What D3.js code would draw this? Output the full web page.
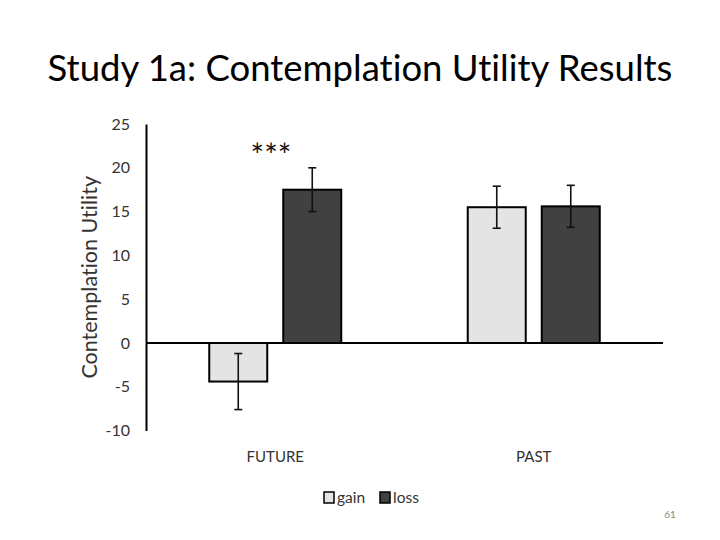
<!DOCTYPE html>
<html><head><meta charset="utf-8">
<script src="https://cdn.jsdelivr.net/npm/d3@7"></script>
<style>body{margin:0;background:#fff}svg{display:block}text{font-variant-ligatures:none}</style>
</head><body>
<svg id="c" width="720" height="540"></svg>
<script>
const categories = ["FUTURE", "PAST"];
const series = ["gain", "loss"];
const gainValues = [-4.4, 15.5];
const lossValues = [17.5, 15.6];
const gainErrors = [3.2, 2.4];
const lossErrors = [2.5, 2.4];
const yTicks = [-10, -5, 0, 5, 10, 15, 20, 25];
const colors = {gain: "#e4e4e4", loss: "#414141"};

const svg = d3.select("#c");
const font = "Lato, 'Open Sans', sans-serif";

svg.append("text").attr("x", 360).attr("y", 81).attr("text-anchor", "middle")
  .attr("font-family", font).attr("font-size", 36.5).attr("fill", "#000")
  .text("Study 1a: Contemplation Utility Results");

const x0 = d3.scaleBand().domain(categories).range([146, 663]);
const y = d3.scaleLinear().domain([-10, 25]).range([430.6, 124]);

// y axis
const yAxis = d3.axisLeft(y).tickValues(yTicks).tickSize(0).tickPadding(16)
  .tickFormat(d => String(d));
const gy = svg.append("g").attr("transform", "translate(146,0)").call(yAxis);
gy.select(".domain").attr("stroke", "#000").attr("stroke-width", 2);
gy.selectAll("text").attr("font-family", font).attr("font-size", 16).attr("fill", "#333");

svg.append("text").attr("transform", `translate(97,${(y(25)+y(-10))/2}) rotate(-90)`)
  .attr("text-anchor", "middle").attr("font-family", font).attr("font-size", 21.5).attr("fill", "#333")
  .text("Contemplation Utility");

const data = [];
categories.forEach((c, i) => {
  data.push({cat: c, s: "gain", v: gainValues[i], e: gainErrors[i]});
  data.push({cat: c, s: "loss", v: lossValues[i], e: lossErrors[i]});
});

const barW = 58, gap = 16;
const xpos = d => x0(d.cat) + x0.bandwidth()/2 + (d.s === "gain" ? -gap/2 - barW : gap/2);

svg.selectAll("rect.bar").data(data).join("rect").attr("class", "bar")
  .attr("x", xpos).attr("width", barW)
  .attr("y", d => y(Math.max(0, d.v))).attr("height", d => Math.abs(y(d.v) - y(0)))
  .attr("fill", d => colors[d.s]).attr("stroke", "#000").attr("stroke-width", 2);

// zero line
svg.append("line").attr("x1", 146).attr("x2", 663).attr("y1", y(0)).attr("y2", y(0))
  .attr("stroke", "#000").attr("stroke-width", 2);

// error bars
const eg = svg.selectAll("g.err").data(data).join("g").attr("class", "err")
  .attr("stroke", "#111").attr("stroke-width", 1.6);
eg.append("line").attr("x1", d => xpos(d) + barW/2).attr("x2", d => xpos(d) + barW/2)
  .attr("y1", d => y(d.v + d.e)).attr("y2", d => y(d.v - d.e));
eg.append("line").attr("x1", d => xpos(d) + barW/2 - 4).attr("x2", d => xpos(d) + barW/2 + 4)
  .attr("y1", d => y(d.v + d.e)).attr("y2", d => y(d.v + d.e));
eg.append("line").attr("x1", d => xpos(d) + barW/2 - 4).attr("x2", d => xpos(d) + barW/2 + 4)
  .attr("y1", d => y(d.v - d.e)).attr("y2", d => y(d.v - d.e));

// category labels
svg.selectAll("text.cat").data(categories).join("text").attr("class", "cat")
  .attr("x", d => x0(d) + x0.bandwidth()/2).attr("y", 462).attr("text-anchor", "middle")
  .attr("font-family", font).attr("font-size", 15).attr("fill", "#333").text(d => d);

// significance
svg.append("text").attr("x", 271).attr("y", 167).attr("text-anchor", "middle")
  .attr("font-family", font).attr("font-size", 32).attr("fill", "#111").text("***");

// legend
const lg = svg.append("g").attr("font-family", font).attr("font-size", 15.5).attr("fill", "#333");
const legX = [324, 380];
series.forEach((s, i) => {
  lg.append("rect").attr("x", legX[i]).attr("y", 492).attr("width", 10).attr("height", 11)
    .attr("fill", colors[s]).attr("stroke", "#000").attr("stroke-width", 1.5);
  lg.append("text").attr("x", legX[i] + 13).attr("y", 503).text(s);
});

svg.append("text").attr("x", 670).attr("y", 518).attr("text-anchor", "middle")
  .attr("font-family", font).attr("font-size", 10).attr("fill", "#888").text("61");
</script>
</body></html>
